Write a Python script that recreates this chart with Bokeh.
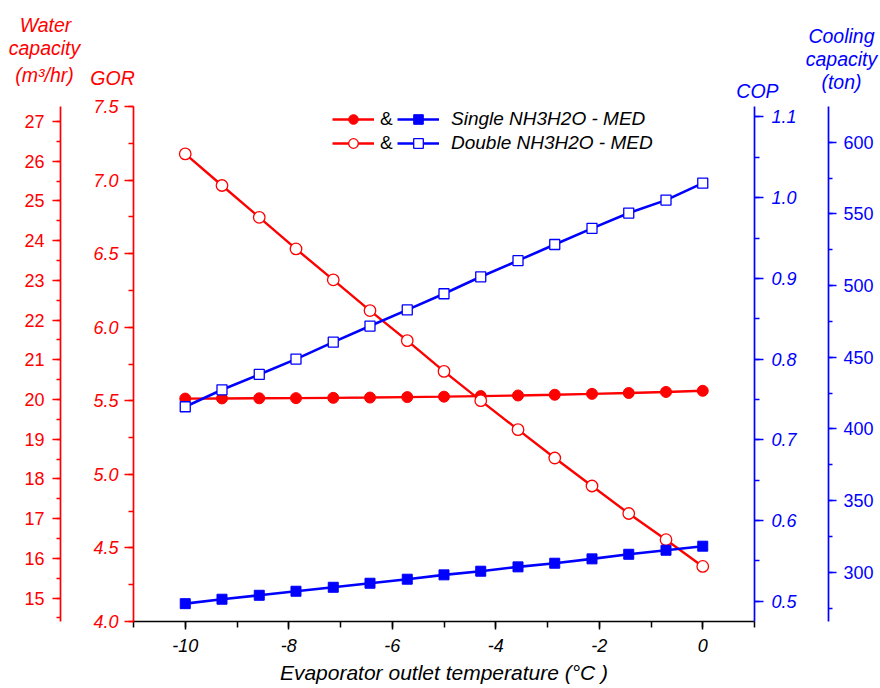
from bokeh.plotting import figure
from bokeh.models import (Range1d, LinearAxis, SingleIntervalTicker, PrintfTickFormatter,
                          Label, Legend, LegendItem)
from bokeh.embed import file_html
from bokeh.resources import INLINE

# ---- data ----
temps = [-10, -9.29, -8.57, -7.86, -7.14, -6.43, -5.71, -5.0, -4.29, -3.57, -2.86, -2.14, -1.43, -0.71, 0]
gor_single = [5.515, 5.516, 5.517, 5.518, 5.520, 5.522, 5.525, 5.528, 5.532, 5.536, 5.541, 5.547, 5.553, 5.560, 5.568]
gor_double = [7.178, 6.963, 6.747, 6.532, 6.322, 6.113, 5.909, 5.700, 5.501, 5.304, 5.111, 4.921, 4.734, 4.556, 4.374]
cop_single = [0.497, 0.5025, 0.5074, 0.5124, 0.5173, 0.5223, 0.5273, 0.5327, 0.5372, 0.5426, 0.5471, 0.5525, 0.5582, 0.5632, 0.5682]
cop_double = [0.741, 0.762, 0.781, 0.800, 0.821, 0.841, 0.861, 0.881, 0.902, 0.922, 0.942, 0.962, 0.981, 0.997, 1.018]

x_bounds = (-11, 1)
gor_bounds = (4.0, 7.5)
water_bounds = (14.41, 27.378)
cop_bounds = (0.4749, 1.113)
cool_bounds = (265.6, 624.9)

legend_single = "Single NH3H2O - MED"
legend_double = "Double NH3H2O - MED"

RED = "#FF0000"
BLUE = "#0000FF"
FONT = "Liberation Sans"

# ---- layout (pixels) ----
W, H = 880, 688
PL, PR, PT, PB = 133, 754, 106, 621     # plotting box inside the canvas
X_WATER, X_COOL = 60, 828                # outer axis positions


def extend(lo, hi, a, b, total):
    k = (hi - lo) / (b - a)
    return lo - a * k, hi + (total - b) * k


xr = Range1d(*extend(x_bounds[0], x_bounds[1], PL, PR, W))
yb, yt = H - PB, H - PT
p = figure(width=W, height=H, output_backend="svg", toolbar_location=None,
           x_range=xr, y_range=Range1d(*extend(gor_bounds[0], gor_bounds[1], yb, yt, H)),
           x_axis_location=None, y_axis_location=None,
           min_border=0, min_border_left=0, min_border_right=0, min_border_top=0, min_border_bottom=0)
p.outline_line_color = None
p.xgrid.visible = False
p.ygrid.visible = False
p.background_fill_color = "white"
p.border_fill_color = "white"

p.extra_y_ranges = {
    "water": Range1d(*extend(water_bounds[0], water_bounds[1], yb, yt, H)),
    "cop": Range1d(*extend(cop_bounds[0], cop_bounds[1], yb, yt, H)),
    "cool": Range1d(*extend(cool_bounds[0], cool_bounds[1], yb, yt, H)),
}

xpx = (x_bounds[1] - x_bounds[0]) / (PR - PL)


def style_axis(ax, color, italic, tick_out=9, minor_out=5, standoff=6):
    ax.axis_line_color = color
    ax.axis_line_width = 1.7
    ax.major_tick_line_color = color
    ax.minor_tick_line_color = color
    ax.major_tick_line_width = 1.5
    ax.minor_tick_line_width = 1.5
    ax.major_tick_in = 0
    ax.major_tick_out = tick_out
    ax.minor_tick_in = 0
    ax.minor_tick_out = minor_out
    ax.major_label_text_color = color
    ax.major_label_text_font = FONT
    ax.major_label_text_font_size = "18px"
    ax.major_label_text_font_style = "italic" if italic else "normal"
    ax.major_label_standoff = standoff


# x axis
xa = LinearAxis(fixed_location=gor_bounds[0], bounds=x_bounds,
                ticker=SingleIntervalTicker(interval=2, num_minor_ticks=2),
                formatter=PrintfTickFormatter(format="%d"))
style_axis(xa, "black", True, tick_out=8, minor_out=6, standoff=9)
xa.axis_label = "Evaporator outlet temperature (°C )"
xa.axis_label_text_font = FONT
xa.axis_label_text_font_size = "21px"
xa.axis_label_text_font_style = "italic"
xa.axis_label_text_color = "black"
xa.axis_label_standoff = 6
p.add_layout(xa, "below")

# GOR axis (inner left)
ga = LinearAxis(fixed_location=x_bounds[0], bounds=gor_bounds,
                ticker=SingleIntervalTicker(interval=0.5, num_minor_ticks=2),
                formatter=PrintfTickFormatter(format="%.1f"))
style_axis(ga, RED, True, tick_out=9, minor_out=5, standoff=6)
p.add_layout(ga, "left")

# Water capacity axis (outer left)
wa = LinearAxis(y_range_name="water", fixed_location=x_bounds[0] + (X_WATER - PL) * xpx, bounds=water_bounds,
                ticker=SingleIntervalTicker(interval=1, num_minor_ticks=2))
style_axis(wa, RED, False, tick_out=8, minor_out=4, standoff=8)
p.add_layout(wa, "left")

# COP axis (inner right)
ca = LinearAxis(y_range_name="cop", fixed_location=x_bounds[1], bounds=cop_bounds,
                ticker=SingleIntervalTicker(interval=0.1, num_minor_ticks=2),
                formatter=PrintfTickFormatter(format="%.1f"))
style_axis(ca, BLUE, True, tick_out=9, minor_out=5, standoff=8)
p.add_layout(ca, "right")

# Cooling capacity axis (outer right)
ka = LinearAxis(y_range_name="cool", fixed_location=x_bounds[1] + (X_COOL - PR) * xpx, bounds=cool_bounds,
                ticker=SingleIntervalTicker(interval=50, num_minor_ticks=2))
style_axis(ka, BLUE, False, tick_out=8, minor_out=4, standoff=7)
p.add_layout(ka, "right")

# ---- series ----
l_gs = p.line(temps, gor_single, line_color=RED, line_width=2.4)
s_gs = p.scatter(temps, gor_single, marker="circle", size=11, fill_color=RED, line_color=RED)
l_gd = p.line(temps, gor_double, line_color=RED, line_width=2.4)
s_gd = p.scatter(temps, gor_double, marker="circle", size=11.5, fill_color="white", line_color=RED, line_width=1.3)
l_cs = p.line(temps, cop_single, line_color=BLUE, line_width=2.6, y_range_name="cop")
s_cs = p.scatter(temps, cop_single, marker="square", size=10, fill_color=BLUE, line_color=BLUE, y_range_name="cop")
l_cd = p.line(temps, cop_double, line_color=BLUE, line_width=2.6, y_range_name="cop")
s_cd = p.scatter(temps, cop_double, marker="square", size=10, fill_color="white", line_color=BLUE, line_width=1.3,
                 y_range_name="cop")


# ---- legends ----
def make_legend(items, loc, standoff, italic):
    return Legend(items=items, location=loc, orientation="vertical",
                  border_line_color=None, background_fill_alpha=0, padding=0, spacing=0, margin=0,
                  glyph_width=42, glyph_height=24, label_height=24, label_standoff=standoff,
                  label_text_font=FONT, label_text_font_size="19px",
                  label_text_font_style="italic" if italic else "normal", label_text_color="black")


leg_red = make_legend([LegendItem(label="&", renderers=[l_gs, s_gs]),
                       LegendItem(label="&", renderers=[l_gd, s_gd])], (332, H - 155), 6, False)
leg_blue = make_legend([LegendItem(label=legend_single, renderers=[l_cs, s_cs]),
                        LegendItem(label=legend_double, renderers=[l_cd, s_cd])], (397, H - 155), 12, True)
p.add_layout(leg_red)
p.add_layout(leg_blue)


# ---- axis titles ----
def title(text, x, baseline, color):
    p.add_layout(Label(x=x, y=H - baseline, x_units="screen", y_units="screen", text=text,
                       text_align="center", text_baseline="alphabetic", text_color=color,
                       text_font=FONT, text_font_size="19.5px", text_font_style="italic"))


title("Water", 45, 24, RED)
title("capacity", 44, 47.5, RED)
title("(m³/hr)", 44, 74, RED)
title("GOR", 112, 77.5, RED)
title("COP", 757, 90.5, BLUE)
title("Cooling", 841, 35, BLUE)
title("capacity", 841, 58.5, BLUE)
title("(ton)", 841, 81, BLUE)

open("out.html", "w").write(file_html(p, INLINE))
